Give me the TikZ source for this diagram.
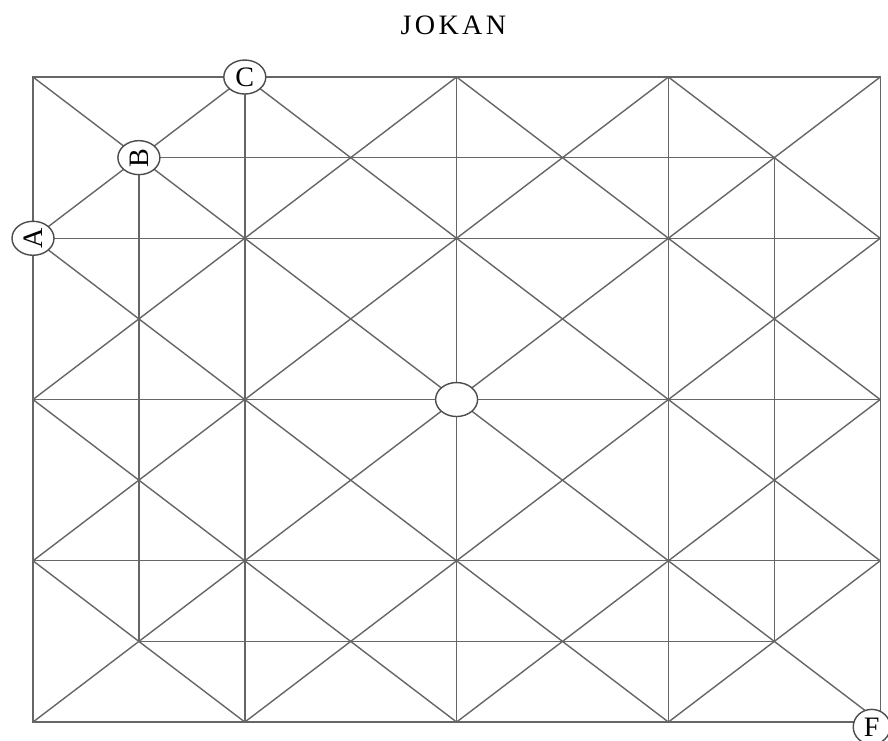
\documentclass[tikz,border=0pt]{standalone}
\usepackage{graphicx}
\usepackage{fontspec}
\setmainfont{Liberation Serif}
\newfontfamily\titlefont[LetterSpace=12]{Liberation Serif}
\usetikzlibrary{shapes.geometric}

\begin{document}
\begin{tikzpicture}[x=2.118cm,y=-1.6125cm,
  ln/.style={black!60,line width=0.8pt},
  pt/.style={ellipse,draw=black!70,line width=0.8pt,fill=white,inner sep=0pt,
    minimum width=0.84cm,minimum height=0.68cm,font=\fontsize{16}{16}\selectfont}]
\useasboundingbox (-0.3116,-0.9553) rectangle (8.0737,8.2258);
\foreach \i in {0,...,8} \foreach \j in {0,...,8} \coordinate (p\i\j) at (\i,\j);
% frames and cross lines
\draw[ln] (p00) rectangle (p88);
\draw[ln] (p11) rectangle (p77);
\foreach \k in {2,4,6} {
  \draw[ln] (p\k0) -- (p\k8);
  \draw[ln] (p0\k) -- (p8\k);
}
% diagonals
\foreach \a/\b/\c/\d in {0/2/6/8,0/4/4/8,0/6/2/8,0/0/8/8,2/0/8/6,4/0/8/4,6/0/8/2}
  \draw[ln] (p\a\b) -- (p\c\d);
\foreach \a/\b/\c/\d in {0/2/2/0,0/4/4/0,0/6/6/0,0/8/8/0,2/8/8/2,4/8/8/4,6/8/8/6}
  \draw[ln] (p\a\b) -- (p\c\d);
% marked points
\node[pt] (ptA) at (p02) {\rotatebox{90}{A}};
\node[pt] (ptB) at (p11) {\rotatebox{90}{B}};
\node[pt] (ptC) at (p20) {C};
\node[pt] (mid) at (p44) {};
\node[pt,minimum width=0.74cm,minimum height=0.7cm] (ptF) at (7.92,8.06) {F};
\node[font=\titlefont\fontsize{16}{16}\selectfont] (title) at (3.97,-0.64) {JOKAN};
\end{tikzpicture}
\end{document}
